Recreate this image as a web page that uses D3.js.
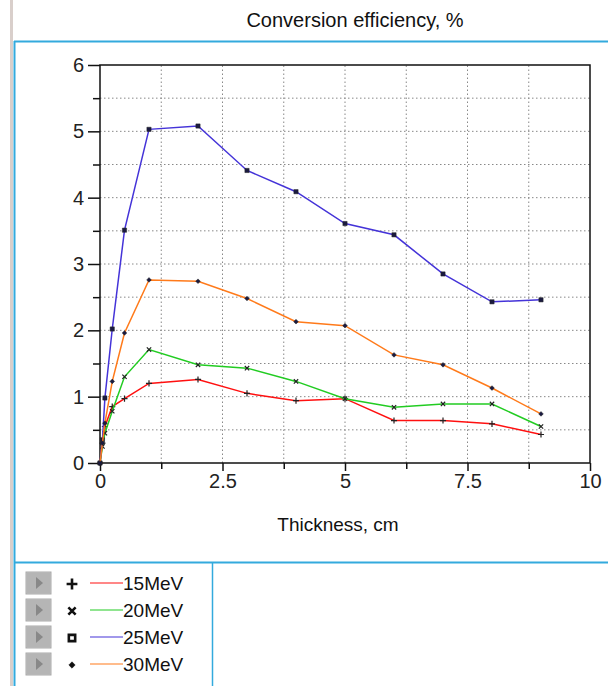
<!DOCTYPE html>
<html>
<head>
<meta charset="utf-8">
<script src="https://cdn.jsdelivr.net/npm/d3@7"></script>
<style>
  body { margin: 0; background: #fff; }
  svg { display: block; font-family: "Liberation Sans", Arial, sans-serif; }
</style>
</head>
<body>
<svg id="chart" width="608" height="686"></svg>
<script>
// thickness, cm
const thickness = [0, 0.05, 0.1, 0.25, 0.5, 1, 2, 3, 4, 5, 6, 7, 8, 9];

// conversion efficiency, %
const eff15 = [0, 0.3, 0.55, 0.85, 0.97, 1.2, 1.26, 1.05, 0.94, 0.97, 0.64, 0.64, 0.59, 0.43];
const eff20 = [0, 0.25, 0.45, 0.78, 1.3, 1.71, 1.48, 1.43, 1.23, 0.97, 0.84, 0.89, 0.89, 0.55];
const eff25 = [0, 0.35, 0.98, 2.02, 3.51, 5.03, 5.08, 4.41, 4.09, 3.61, 3.44, 2.85, 2.43, 2.46];
const eff30 = [0, 0.3, 0.6, 1.23, 1.96, 2.76, 2.74, 2.48, 2.13, 2.07, 1.63, 1.48, 1.13, 0.74];

const seriesNames = ['15MeV', '20MeV', '25MeV', '30MeV'];
const seriesColors = ['#ff1010', '#22cc22', '#4433d8', '#ff7a1a'];
const seriesSymbols = [d3.symbolPlus, d3.symbolX, d3.symbolSquare, d3.symbolDiamond2];
const seriesValues = [eff15, eff20, eff25, eff30];

const xTicks = [0, 2.5, 5, 7.5, 10];
const yTicks = [0, 1, 2, 3, 4, 5, 6];

const svg = d3.select('#chart');
const blue = '#33aadd';
const font = '"Liberation Sans", Arial, sans-serif';

// left gray strip + frame
svg.append('rect').attr('x', 10).attr('y', 0).attr('width', 3).attr('height', 686).attr('fill', '#d9cfcb');
svg.append('line').attr('x1', 14).attr('x2', 608).attr('y1', 41.5).attr('y2', 41.5)
  .attr('stroke', blue).attr('stroke-width', 2);
svg.append('line').attr('x1', 14.5).attr('x2', 14.5).attr('y1', 41).attr('y2', 686)
  .attr('stroke', blue).attr('stroke-width', 2);
svg.append('line').attr('x1', 14).attr('x2', 608).attr('y1', 562.5).attr('y2', 562.5)
  .attr('stroke', blue).attr('stroke-width', 2);
svg.append('line').attr('x1', 212.5).attr('x2', 212.5).attr('y1', 562).attr('y2', 686)
  .attr('stroke', blue).attr('stroke-width', 1.5);

// title
svg.append('text').attr('x', 355).attr('y', 27).attr('text-anchor', 'middle')
  .attr('font-size', 20).attr('fill', '#111').text('Conversion efficiency, %');

const x = d3.scaleLinear().domain([0, 10]).range([100, 590]);
const y = d3.scaleLinear().domain([0, 6]).range([463, 65]);

// grid
const g = svg.append('g');
g.selectAll('.vgrid').data(d3.range(1.25, 10, 1.25)).join('line')
  .attr('x1', d => x(d)).attr('x2', d => x(d)).attr('y1', y(0)).attr('y2', y(6))
  .attr('stroke', '#888').attr('stroke-dasharray', '1.5,2.5');
g.selectAll('.hgrid').data(d3.range(0.5, 6, 0.5)).join('line')
  .attr('x1', x(0)).attr('x2', x(10)).attr('y1', d => y(d)).attr('y2', d => y(d))
  .attr('stroke', '#888').attr('stroke-dasharray', '1.5,2.5');

// axes
const yAxis = d3.axisLeft(y).tickValues(yTicks).tickFormat(d3.format('d')).tickSize(12).tickPadding(4);
const yMinor = d3.axisLeft(y).tickValues(d3.range(0.5, 6, 1)).tickFormat('').tickSize(7);
const xAxis = d3.axisBottom(x).tickValues(xTicks).tickFormat(d => d).tickSize(8).tickPadding(3);
const xMinor = d3.axisBottom(x).tickValues(d3.range(1.25, 10, 2.5)).tickFormat('').tickSize(6);

[[yAxis, `translate(${x(0)},0)`], [yMinor, `translate(${x(0)},0)`],
 [xAxis, `translate(0,${y(0)})`], [xMinor, `translate(0,${y(0)})`]].forEach(([ax, tr]) => {
  const a = svg.append('g').attr('transform', tr).call(ax);
  a.select('.domain').remove();
  a.selectAll('line').attr('stroke', '#111').attr('stroke-width', 1.5);
  a.selectAll('text').attr('font-size', 20).attr('fill', '#222').attr('font-family', font);
});

// plot frame
svg.append('rect').attr('x', x(0)).attr('y', y(6)).attr('width', x(10) - x(0)).attr('height', y(0) - y(6))
  .attr('fill', 'none').attr('stroke', '#111').attr('stroke-width', 1.5);

svg.append('text').attr('x', 338).attr('y', 531).attr('text-anchor', 'middle')
  .attr('font-size', 19).attr('fill', '#111').text('Thickness, cm');

// series
const line = d3.line().x(d => x(d[0])).y(d => y(d[1]));
const markSize = [14, 14, 18, 14];
seriesValues.forEach((vals, i) => {
  const pts = thickness.map((t, j) => [t, vals[j]]);
  svg.append('path').datum(pts).attr('d', line)
    .attr('fill', 'none').attr('stroke', seriesColors[i]).attr('stroke-width', 1.5);
  const stroked = i < 2;
  svg.append('g').selectAll('path').data(pts).join('path')
    .attr('transform', d => `translate(${x(d[0])},${y(d[1])})`)
    .attr('d', d3.symbol().type(seriesSymbols[i]).size(markSize[i]))
    .attr('fill', stroked ? 'none' : '#1a1a40')
    .attr('stroke', '#222').attr('stroke-width', stroked ? 1.2 : 0.5);
});

// legend
const legend = svg.append('g');
const legSize = [40, 36, 40, 26];
seriesNames.forEach((name, i) => {
  const cy = 583 + i * 27;
  const row = legend.append('g').attr('transform', `translate(0,${cy})`);
  row.append('rect').attr('x', 26).attr('y', -11).attr('width', 25).attr('height', 22)
    .attr('fill', '#c4c4c4').attr('stroke', '#aaa');
  row.append('rect').attr('x', 27).attr('y', -10).attr('width', 23).attr('height', 20)
    .attr('fill', '#b5b5b5');
  row.append('path').attr('d', 'M36,-6 L43,0 L36,6 Z').attr('fill', '#888');
  const stroked = i !== 3;
  row.append('path').attr('transform', 'translate(72,1)')
    .attr('d', d3.symbol().type(seriesSymbols[i]).size(legSize[i]))
    .attr('fill', stroked ? 'none' : '#111')
    .attr('stroke', '#111').attr('stroke-width', stroked ? 2.6 : 0.5);
  row.append('line').attr('x1', 90).attr('x2', 123).attr('y1', 0).attr('y2', 0)
    .attr('stroke', seriesColors[i]).attr('stroke-width', 1.2);
  row.append('text').attr('x', 123).attr('y', 7).attr('font-size', 19).attr('fill', '#111').text(name);
});
</script>
</body>
</html>
